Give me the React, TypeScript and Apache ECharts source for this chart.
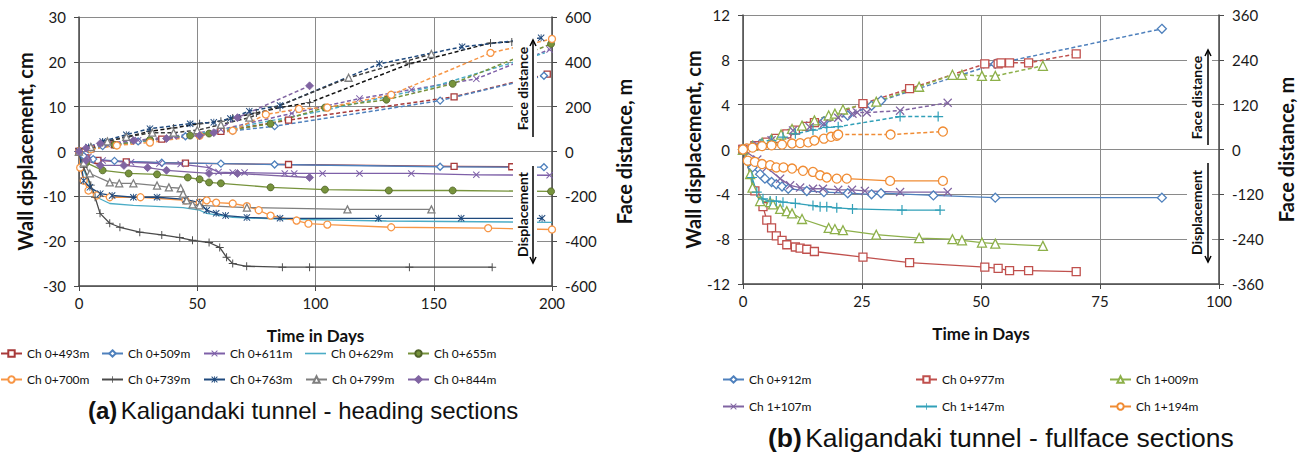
import React, { useEffect, useRef } from "react";
import * as echarts from "echarts";

type Pt = [number, number];

// ---------- (a) heading sections : displacement (cm) and face distance (m) ----------
const namesA = ["Ch 0+493m", "Ch 0+509m", "Ch 0+611m", "Ch 0+629m", "Ch 0+655m", "Ch 0+700m", "Ch 0+739m", "Ch 0+763m", "Ch 0+799m", "Ch 0+844m"];

const disp0493: Pt[] = [[0,0],[3,-1.4],[8,-2.0],[20,-2.3],[45,-2.6],[88.6,-2.9],[158.6,-3.3],[183,-3.4]];
const face0493: Pt[] = [[0,0],[5,12],[15,30],[35,55],[60,90],[88.6,140],[158.6,244],[198,345]];
const disp0509: Pt[] = [[0,0],[2,-1.0],[6,-1.7],[15,-2.1],[35,-2.5],[60,-2.7],[82.7,-2.9],[152.7,-3.4],[196.6,-3.5]];
const face0509: Pt[] = [[0,0],[4,10],[10,24],[25,45],[45,68],[65,92],[82.7,113],[152.7,227],[196.6,338]];
const disp0611: Pt[] = [[0,0],[4,-1.2],[10,-2.0],[22,-2.4],[34,-2.7],[43,-2.8],[55,-3.6],[59,-4.6],[65,-4.7],[70,-4.7],[87,-4.9],[91,-4.9],[103,-4.9],[118.6,-4.9],[140.5,-4.9],[168,-5.2],[199,-5.3]];
const face0611: Pt[] = [[0,0],[5,14],[12,32],[25,50],[40,68],[60,98],[90,170],[118.6,236],[140.5,276],[168,324],[199,455]];
const disp0629: Pt[] = [[0,0],[2,-4],[5,-8],[7.5,-10.2],[13,-11.6],[23,-12.0],[44,-12.5],[51,-13.1],[54,-13.8],[65,-14.7],[86,-15.1],[130,-15.5],[200,-15.8]];
const face0629: Pt[] = [[0,0],[10,22],[30,50],[60,95],[100,175],[150,290],[197,440]];
const disp0655: Pt[] = [[0,0],[3,-2.5],[10,-4.2],[21,-4.9],[33,-5.1],[46,-5.8],[51,-6.2],[55,-6.9],[60,-7.1],[81,-8.0],[104,-8.5],[131,-8.7],[158,-8.7],[199.6,-8.9]];
const face0655: Pt[] = [[0,0],[5,10],[15,30],[30,52],[47,71],[55,80],[81,124],[104,196],[130,231],[158,302],[199.6,480]];
const disp0700: Pt[] = [[0,0],[0.5,-3.6],[2,-6.5],[4,-8.7],[7.5,-9.8],[13,-10.2],[26,-10.2],[45,-10.9],[51,-11.4],[54,-10.9],[58,-11.4],[65,-11.6],[71,-12.2],[76,-13.1],[81,-14.3],[92,-15.4],[97,-16.1],[105,-16.3],[132,-16.9],[173,-17.1],[200,-17.4]];
const face0700: Pt[] = [[0,0],[5,10],[16,27],[30,40],[51,71],[65,93],[79,165],[93,190],[105,196],[132,253],[174,440],[200,502]];
const disp0739: Pt[] = [[0,0],[2,-3.5],[5,-7.5],[6.8,-10.2],[8.9,-13.8],[13,-16.0],[17.3,-16.9],[25.7,-18.0],[35,-18.6],[42.6,-19.2],[48,-19.8],[55,-20.3],[59.5,-21.4],[62.4,-23.6],[65,-25.0],[70.9,-25.6],[86,-25.8],[97.5,-25.8],[139.7,-25.8],[174.7,-25.8]];
const face0739: Pt[] = [[0,0],[5,18],[10,40],[20,65],[30,90],[40,105],[51,124],[60,135],[65,150],[75,172],[85,196],[97.5,218],[139.7,391],[174,484],[183,489]];
const disp0763: Pt[] = [[0,0],[2,-6.5],[4.6,-8.0],[9,-9.4],[14,-9.8],[23,-10.2],[33,-10.2],[45,-10.7],[51,-11.4],[54,-13.1],[58,-13.8],[62,-14.3],[71,-14.7],[85,-14.9],[126.6,-14.9],[161.6,-14.9],[195.8,-14.9]];
const face0763: Pt[] = [[0,0],[4,20],[10,45],[20,75],[30,102],[47,124],[57,130],[64,147],[72,180],[85,205],[127,391],[162,467],[195.4,507]];
const disp0799: Pt[] = [[0,0],[2,-2.5],[4.6,-4.9],[13,-6.9],[17,-7.1],[23,-7.1],[33,-7.6],[38,-8.0],[43,-8.2],[44,-9.4],[45.5,-10.9],[48,-11.8],[51,-12.0],[71,-12.5],[113.5,-12.9],[149,-12.9]];
const face0799: Pt[] = [[0,0],[5,20],[12,45],[20,65],[31,84],[40,84],[50,95],[60,120],[72,151],[114,329],[149,435]];
const disp0844: Pt[] = [[0,0],[3,-2.0],[9,-3.1],[19,-3.1],[29,-3.6],[37,-4.2],[55,-4.9],[67,-4.9],[97.5,-5.8]];
const face0844: Pt[] = [[0,0],[3,15],[9,36],[23,49],[37,58],[51,71],[57,84],[67,151],[97.5,293]];

// ---------- (b) fullface sections ----------
const namesB = ["Ch 0+912m", "Ch 0+977m", "Ch 1+009m", "Ch 1+107m", "Ch 1+147m", "Ch 1+194m"];

const disp0912: Pt[] = [[0,0],[2,-1.6],[3.6,-2.2],[4.6,-2.6],[6,-2.9],[7,-3.1],[8.2,-3.3],[9.5,-3.5],[13.4,-3.7],[17,-3.8],[22,-3.9],[27,-4.0],[29,-3.9],[40,-4.1],[53,-4.3],[88,-4.3]];
const face0912: Pt[] = [[0,0],[2,8],[3.6,15],[6,27],[9.5,42],[13.4,62],[17,75],[22,91],[27,117],[29,131],[53,229],[88,323]];
const disp0977: Pt[] = [[0,0],[2.5,-3.7],[4.2,-5.1],[5,-6.3],[6,-7.0],[7,-7.7],[8.2,-8.1],[9.2,-8.5],[11,-8.7],[12,-8.8],[13.4,-8.9],[15,-9.1],[25.2,-9.6],[35,-10.1],[50.8,-10.5],[53.6,-10.6],[56,-10.8],[60,-10.8],[70,-10.9]];
const face0977: Pt[] = [[0,0],[2.5,10],[5,20],[7,30],[9.2,42],[11,52],[13.4,62],[15,72],[25.2,123],[35,163],[50.8,229],[53.6,229],[54.2,232],[56,232],[60,232],[70,256]];
const disp1009: Pt[] = [[0,0],[1.5,-2.2],[2,-3.4],[3.6,-4.6],[5.7,-4.7],[6.3,-4.9],[7.8,-5.3],[9.2,-5.5],[10.3,-5.7],[12.4,-6.2],[18,-7.0],[19.3,-7.1],[21,-7.2],[28,-7.6],[37,-7.9],[44,-8.0],[46,-8.1],[50.2,-8.3],[53,-8.4],[63,-8.6]];
const face1009: Pt[] = [[0,0],[2,10],[4,18],[6,28],[8,40],[10.3,55],[12.4,64],[15,78],[18,91],[19.3,96],[21,107],[28,128],[37,168],[44,200],[46,200],[50.2,197],[53,197],[63,224]];
const disp1107: Pt[] = [[0,0],[3,-0.9],[5,-1.6],[7.8,-2.6],[9.9,-3.2],[12,-3.4],[14.7,-3.5],[16.8,-3.5],[20,-3.6],[22.9,-3.6],[25.6,-3.7],[33,-3.8],[43,-3.8]];
const face1107: Pt[] = [[0,0],[3,12],[6,25],[10.5,51],[14,60],[17,69],[20,85],[23,96],[24,99],[26,99],[33,104],[43,125]];
const disp1147: Pt[] = [[0,0],[1.9,-2.5],[2.9,-3.8],[4.2,-4.4],[5.7,-4.6],[7,-4.6],[8.4,-4.7],[11,-4.8],[14.7,-5.0],[16.2,-5.1],[17.6,-5.1],[19.7,-5.2],[23,-5.3],[33.4,-5.4],[41.4,-5.4]];
const face1147: Pt[] = [[0,0],[2,8],[4,16],[6,24],[8.4,33],[11,42],[14.7,52],[17.6,59],[20,61],[33,88],[41,88]];
const disp1194: Pt[] = [[0,0],[1,-1.0],[2.5,-1.1],[4,-1.3],[5.7,-1.4],[7,-1.6],[8.5,-1.6],[10.3,-1.7],[12.6,-1.9],[14.7,-2.0],[16.2,-2.3],[17.6,-2.5],[19.7,-2.6],[21.8,-2.6],[30.9,-2.8],[42,-2.8]];
const face1194: Pt[] = [[0,0],[0.8,3],[2,5],[4,9],[6,11],[8.2,13],[10.3,16],[12,17],[13.7,19],[15,24],[17,29],[18.5,34],[19.7,37],[20,40],[31,40],[42,48]];

// tick settings
const ticksA = { xMax: 200, xStep: 50, yMin: -30, yMax: 30, yStep: 10, fMin: -600, fMax: 600, fStep: 200 };
const ticksB = { xMax: 100, xStep: 25, yMin: -12, yMax: 12, yStep: 4, fMin: -360, fMax: 360, fStep: 120 };

const X_PATH = "path://M1,0L5,4L9,0L10,1L6,5L10,9L9,10L5,6L1,10L0,9L4,5L0,1Z";
const PLUS_PATH = "path://M4.4,0H5.6V4.4H10V5.6H5.6V10H4.4V5.6H0V4.4H4.4Z";
const STAR_PATH = "path://M1,0L5,4L9,0L10,1L6,5L10,9L9,10L5,6L1,10L0,9L4,5L0,1Z M4.4,0H5.6V10H4.4Z";

const FONT = "Lato";

interface Spec {
  name: string; color: string; symbol: string; size: number; mode: "open" | "fill" | "path" | "none";
  disp: Pt[]; face: Pt[]; grid: number; faceColor?: string; border?: string;
}

function build(s: Spec): any[] {
  let itemStyle: any;
  if (s.mode === "open") itemStyle = { color: "#fff", borderColor: s.color, borderWidth: 1.3 };
  else if (s.mode === "fill") itemStyle = { color: s.color, borderColor: s.border || s.color, borderWidth: 0.8 };
  else itemStyle = { color: s.color, borderWidth: 0 };
  const common = {
    type: "line", name: s.name, xAxisIndex: s.grid, symbol: s.symbol, symbolSize: s.size,
    showSymbol: s.mode !== "none", itemStyle, emphasis: { disabled: true }, silent: true,
  };
  return [
    { ...common, yAxisIndex: s.grid * 2, data: s.disp, lineStyle: { color: s.color, width: 1.3 }, z: 3 },
    { ...common, yAxisIndex: s.grid * 2 + 1, data: s.face, lineStyle: { color: s.faceColor || s.color, width: 1.5, type: [4, 2.5] }, z: 2 },
  ];
}

const specsA: Spec[] = [
  { name: namesA[0], color: "#A83A3A", symbol: "rect", size: 6, mode: "open", disp: disp0493, face: face0493, grid: 0 },
  { name: namesA[1], color: "#4F81BD", symbol: "diamond", size: 7, mode: "open", disp: disp0509, face: face0509, grid: 0 },
  { name: namesA[2], color: "#7E60A8", symbol: X_PATH, size: 7, mode: "path", disp: disp0611, face: face0611, grid: 0 },
  { name: namesA[3], color: "#4BACC6", symbol: "none", size: 0, mode: "none", disp: disp0629, face: face0629, grid: 0 },
  { name: namesA[4], color: "#77933C", symbol: "circle", size: 7, mode: "fill", border: "#4F6228", disp: disp0655, face: face0655, grid: 0 },
  { name: namesA[5], color: "#F79646", symbol: "circle", size: 7, mode: "open", disp: disp0700, face: face0700, grid: 0 },
  { name: namesA[6], color: "#4A4A4A", symbol: PLUS_PATH, size: 8, mode: "path", disp: disp0739, face: face0739, grid: 0, faceColor: "#111" },
  { name: namesA[7], color: "#1F497D", symbol: STAR_PATH, size: 7, mode: "path", disp: disp0763, face: face0763, grid: 0 },
  { name: namesA[8], color: "#7F7F7F", symbol: "triangle", size: 7, mode: "open", disp: disp0799, face: face0799, grid: 0, faceColor: "#3a3a3a" },
  { name: namesA[9], color: "#8064A2", symbol: "diamond", size: 8, mode: "fill", disp: disp0844, face: face0844, grid: 0 },
];

const specsB: Spec[] = [
  { name: namesB[0], color: "#4F81BD", symbol: "diamond", size: 9, mode: "open", disp: disp0912, face: face0912, grid: 1 },
  { name: namesB[1], color: "#C0504D", symbol: "rect", size: 8, mode: "open", disp: disp0977, face: face0977, grid: 1 },
  { name: namesB[2], color: "#8DB04A", symbol: "triangle", size: 9, mode: "open", disp: disp1009, face: face1009, grid: 1 },
  { name: namesB[3], color: "#8064A2", symbol: X_PATH, size: 9, mode: "path", disp: disp1107, face: face1107, grid: 1 },
  { name: namesB[4], color: "#31A0B8", symbol: PLUS_PATH, size: 10, mode: "path", disp: disp1147, face: face1147, grid: 1 },
  { name: namesB[5], color: "#F08C34", symbol: "circle", size: 9, mode: "open", disp: disp1194, face: face1194, grid: 1 },
];

const GRID_C = "#8a8a8a";
const AXIS_C = "#4a4a4a";

function xAxis(gridIndex: number, t: any) {
  return {
    type: "value", gridIndex, min: 0, max: t.xMax, interval: t.xStep,
    name: "Time in Days", nameLocation: "middle", nameGap: 41,
    nameTextStyle: { fontSize: 17, fontWeight: "bold", color: "#111", fontFamily: FONT, lineHeight: 17 },
    axisLine: { show: true, onZero: false, lineStyle: { color: AXIS_C, width: 1.5 } },
    axisTick: { show: true, inside: false, length: 5, lineStyle: { color: AXIS_C } },
    axisLabel: { fontSize: 15, color: "#1a1a1a", margin: 9, fontFamily: FONT },
    splitLine: { show: true, lineStyle: { color: GRID_C, width: 1 } },
  };
}
function yLeft(gridIndex: number, t: any, gap: number) {
  return {
    type: "value", gridIndex, position: "left", min: t.yMin, max: t.yMax, interval: t.yStep,
    name: "Wall displacement, cm", nameLocation: "middle", nameGap: gap,
    nameTextStyle: { fontSize: 20, fontWeight: "bold", color: "#111", fontFamily: FONT },
    axisLine: { show: true, onZero: false, lineStyle: { color: AXIS_C, width: 1.5 } },
    axisTick: { show: true, inside: false, length: 5, lineStyle: { color: AXIS_C } },
    axisLabel: { fontSize: 15, color: "#1a1a1a", margin: 13, fontFamily: FONT },
    splitLine: { show: true, lineStyle: { color: GRID_C, width: 1 } },
  };
}
function yRight(gridIndex: number, t: any, gap: number) {
  return {
    type: "value", gridIndex, position: "right", min: t.fMin, max: t.fMax, interval: t.fStep,
    name: "Face distance, m", nameLocation: "middle", nameGap: gap,
    nameTextStyle: { fontSize: 20, fontWeight: "bold", color: "#111", fontFamily: FONT },
    axisLine: { show: true, onZero: false, lineStyle: { color: AXIS_C, width: 1.5 } },
    axisTick: { show: true, inside: false, length: 5, lineStyle: { color: AXIS_C } },
    axisLabel: { fontSize: 15, color: "#1a1a1a", margin: 13, fontFamily: FONT },
    splitLine: { show: false },
  };
}

function legendItem(name: string, left: number, top: number, lineOnly: boolean) {
  return {
    data: lineOnly ? [{ name, icon: "rect" }] : [name],
    left, top, padding: 0, itemWidth: 21, itemHeight: lineOnly ? 1.6 : 8, selectedMode: false,
    textStyle: { fontSize: 12, color: "#111", fontFamily: FONT, lineHeight: 13 },
  };
}

const legColsA = [0, 101, 203, 305, 407];
const legRowsA = [347, 373];
const legColsB = [722, 915, 1109];
const legRowsB = [373, 400];

function annot(cx: number, textX: number, y1: number, y2: number, label: string, up: boolean) {
  const mid = (y1 + y2) / 2;
  const tipY = up ? y1 : y2;
  const d = up ? 6 : -6;
  return [
    { type: "rect", shape: { x: textX - 9, y: y1 - 3, width: cx - textX + 13, height: y2 - y1 + 6 }, style: { fill: "#fff" }, z: 100 },
    { type: "text", x: textX, y: mid, rotation: Math.PI / 2, z: 101,
      style: { text: label, fontSize: 14, fontWeight: "bold", fontFamily: FONT, fill: "#111", align: "center", verticalAlign: "middle", textAlign: "center", textVerticalAlign: "middle" } },
    { type: "line", shape: { x1: cx, y1, x2: cx, y2 }, style: { stroke: "#000", lineWidth: 1.5 }, z: 101 },
    { type: "polyline", shape: { points: [[cx - 3, tipY + d], [cx, tipY], [cx + 3, tipY + d]] }, style: { stroke: "#000", lineWidth: 1.5, fill: null }, z: 101 },
  ];
}

function caption(x: number, y: number, tag: string, rest: string, size: number) {
  return {
    type: "text", x, y, z: 101,
    style: {
      text: `{b|${tag}} {r|${rest}}`, verticalAlign: "middle", textVerticalAlign: "middle",
      rich: {
        b: { fontSize: size, fontWeight: "bold", fontFamily: "Liberation Sans", fill: "#111" },
        r: { fontSize: size, fontFamily: "Liberation Sans", fill: "#111" },
      },
    },
  };
}

export default function App() {
  const ref = useRef<HTMLDivElement>(null);
  useEffect(() => {
    if (!ref.current) return;
    const chart = echarts.init(ref.current, undefined, { renderer: "svg" });
    const series = [...specsA.flatMap(build), ...specsB.flatMap(build)];
    const legends = [
      ...namesA.map((n, i) => legendItem(n, legColsA[i % 5], legRowsA[Math.floor(i / 5)], specsA[i].mode === "none")),
      ...namesB.map((n, i) => legendItem(n, legColsB[i % 3], legRowsB[Math.floor(i / 3)], false)),
    ];
    chart.setOption({
      animation: false,
      backgroundColor: "#fff",
      textStyle: { fontFamily: FONT },
      grid: [
        { left: 79, top: 17, width: 473, height: 269 },
        { left: 743, top: 15, width: 476, height: 269 },
      ],
      xAxis: [xAxis(0, ticksA), xAxis(1, ticksB)],
      yAxis: [yLeft(0, ticksA, 44), yRight(0, ticksA, 62), yLeft(1, ticksB, 25), yRight(1, ticksB, 57)],
      legend: legends,
      series,
      graphic: [
        ...annot(533, 522, 40, 137, "Face distance", true),
        ...annot(533, 522, 166, 263, "Displacement", false),
        ...annot(1208, 1196, 50, 145, "Face distance", true),
        ...annot(1208, 1196, 163, 262, "Displacement", false),
        caption(88, 410, "(a)", "Kaligandaki tunnel - heading sections", 24),
        caption(768, 438, "(b)", "Kaligandaki tunnel - fullface sections", 26.5),
      ],
    });
    return () => chart.dispose();
  }, []);
  return <div ref={ref} style={{ position: "absolute", left: 0, top: 0, width: 1311, height: 454, background: "#fff" }} />;
}
